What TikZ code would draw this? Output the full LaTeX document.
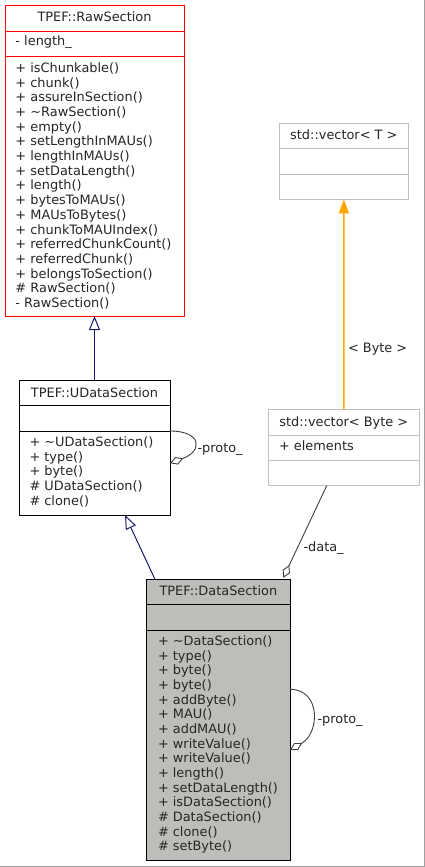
\documentclass[tikz,border=0pt]{standalone}
\usepackage{fontspec}
\setmainfont{DejaVu Sans}
\usetikzlibrary{arrows.meta,calc}
\definecolor{navyedge}{HTML}{191970}
\definecolor{orangeedge}{HTML}{FFA500}
\definecolor{grayedge}{HTML}{404040}
\definecolor{boxgray}{HTML}{BFBFBF}
\definecolor{boxfill}{HTML}{BCBEBA}
\definecolor{rawred}{HTML}{FF0000}
\definecolor{framegray}{HTML}{A0A0A0}
\begin{document}
\begin{tikzpicture}[x=1pt,y=-1pt,
  font=\fontsize{12.9}{14.7}\selectfont,
  classbox/.style={draw, line width=1pt, anchor=north west, inner sep=0pt, outer sep=0pt},
  txt/.style={anchor=base west, inner sep=0pt, outer sep=0pt, text=black!85},
  ttl/.style={anchor=base, inner sep=0pt, outer sep=0pt, text=black!85},
  sep/.style={line width=1pt},
  inherit/.style={navyedge, line width=1pt, -{Triangle[open, length=14pt, width=11pt]}},
  templ/.style={orangeedge, line width=1.4pt, -{Triangle[length=14pt, width=10pt]}},
  assoc/.style={grayedge, line width=0.9pt, -{Diamond[open, length=14pt, width=8pt]}}]
\useasboundingbox (0,0) rectangle (425,867);
\fill[white] (0,0) rectangle (425,867);

% ---------- TPEF::RawSection ----------
\node[classbox, draw=rawred, minimum width=179pt, minimum height=310pt] (raw) at (5,6) {};
\draw[sep, rawred] ($(raw.north west)+(0,26)$) -- ($(raw.north east)+(0,26)$);
\draw[sep, rawred] ($(raw.north west)+(0,51)$) -- ($(raw.north east)+(0,51)$);
\node[ttl] (rawtitle) at ($(raw.north)+(0,15.6)$) {TPEF::RawSection};
\node[txt] (rawattr) at (15.5,46) {- length\_};
\foreach \t [count=\i from 0] in {{+ isChunkable()},{+ chunk()},{+ assureInSection()},
  {+ \textasciitilde RawSection()},{+ empty()},{+ setLengthInMAUs()},{+ lengthInMAUs()},
  {+ setDataLength()},{+ length()},{+ bytesToMAUs()},{+ MAUsToBytes()},
  {+ chunkToMAUIndex()},{+ referredChunkCount()},{+ referredChunk()},
  {+ belongsToSection()},{\# RawSection()},{- RawSection()}}
  \node[txt] (rawop\i) at (15.5,{72.3+14.7*\i}) {\t};

% ---------- TPEF::UDataSection ----------
\node[classbox, draw=black, minimum width=151pt, minimum height=134.3pt] (udata) at (19,380.7) {};
\draw[sep] ($(udata.north west)+(0,24.5)$) -- ($(udata.north east)+(0,24.5)$);
\draw[sep] ($(udata.north west)+(0,50.3)$) -- ($(udata.north east)+(0,50.3)$);
\node[ttl] (udatatitle) at ($(udata.north)+(0,16.4)$) {TPEF::UDataSection};
\foreach \t [count=\i from 0] in {{+ \textasciitilde UDataSection()},{+ type()},{+ byte()},
  {\# UDataSection()},{\# clone()}}
  \node[txt] (udataop\i) at (29.5,{446.3+14.7*\i}) {\t};

% ---------- TPEF::DataSection ----------
\node[classbox, draw=black, fill=boxfill, minimum width=143.3pt, minimum height=281.4pt] (data) at (146.7,579.3) {};
\draw[sep] ($(data.north west)+(0,25)$) -- ($(data.north east)+(0,25)$);
\draw[sep] ($(data.north west)+(0,50.7)$) -- ($(data.north east)+(0,50.7)$);
\node[ttl] (datatitle) at ($(data.north)+(0,16)$) {TPEF::DataSection};
\foreach \t [count=\i from 0] in {{+ \textasciitilde DataSection()},{+ type()},{+ byte()},
  {+ byte()},{+ addByte()},{+ MAU()},{+ addMAU()},{+ writeValue()},{+ writeValue()},
  {+ length()},{+ setDataLength()},{+ isDataSection()},{\# DataSection()},
  {\# clone()},{\# setByte()}}
  \node[txt] (dataop\i) at (158,{645.7+14.64*\i}) {\t};

% ---------- std::vector< T > ----------
\node[classbox, draw=boxgray, minimum width=129.7pt, minimum height=76pt] (vect) at (279,123.3) {};
\draw[sep, boxgray] ($(vect.north west)+(0,25.4)$) -- ($(vect.north east)+(0,25.4)$);
\draw[sep, boxgray] ($(vect.north west)+(0,50.7)$) -- ($(vect.north east)+(0,50.7)$);
\node[ttl] (vecttitle) at ($(vect.north)+(0,16.3)$) {std::vector< T >};

% ---------- std::vector< Byte > ----------
\node[classbox, draw=boxgray, minimum width=151pt, minimum height=76.4pt] (vecb) at (268.3,409.3) {};
\draw[sep, boxgray] ($(vecb.north west)+(0,26.2)$) -- ($(vecb.north east)+(0,26.2)$);
\draw[sep, boxgray] ($(vecb.north west)+(0,51)$) -- ($(vecb.north east)+(0,51)$);
\node[ttl] (vecbtitle) at ($(vecb.north)+(0,17)$) {std::vector< Byte >};
\node[txt] (vecbattr) at (279,450.7) {+ elements};

% ---------- connectors ----------
\draw[inherit] (udata.north) -- (raw.south);
\draw[inherit] ($(data.north west)+(8.3,0)$) -- ($(udata.south west)+(106,0)$);
\draw[templ] (vecb.north) -- (vect.south);
\node[txt] (bytelabel) at (348,352) {< Byte >};
\draw[assoc] ($(vecb.south west)+(58.4,0)$) -- ($(data.north west)+(136.6,-1.5)$);
\node[txt] (datalabel) at (303.5,551) {-data\_};
\draw[assoc] ($(udata.north east)+(0,50.3)$) .. controls +(32,0) and +(33,-12) .. ($(udata.north east)+(0,82.5)$);
\node[txt] (uprotolabel) at (197.5,452) {-proto\_};
\draw[assoc] ($(data.north east)+(0,110)$) .. controls +(31,0) and +(30,-17) .. ($(data.north east)+(0,170.7)$);
\node[txt] (dprotolabel) at (317.5,723) {-proto\_};

% ---------- frame ----------
\draw[framegray, line width=1pt] (424.5,0) -- (424.5,866.5) -- (0,866.5);
\end{tikzpicture}
\end{document}
